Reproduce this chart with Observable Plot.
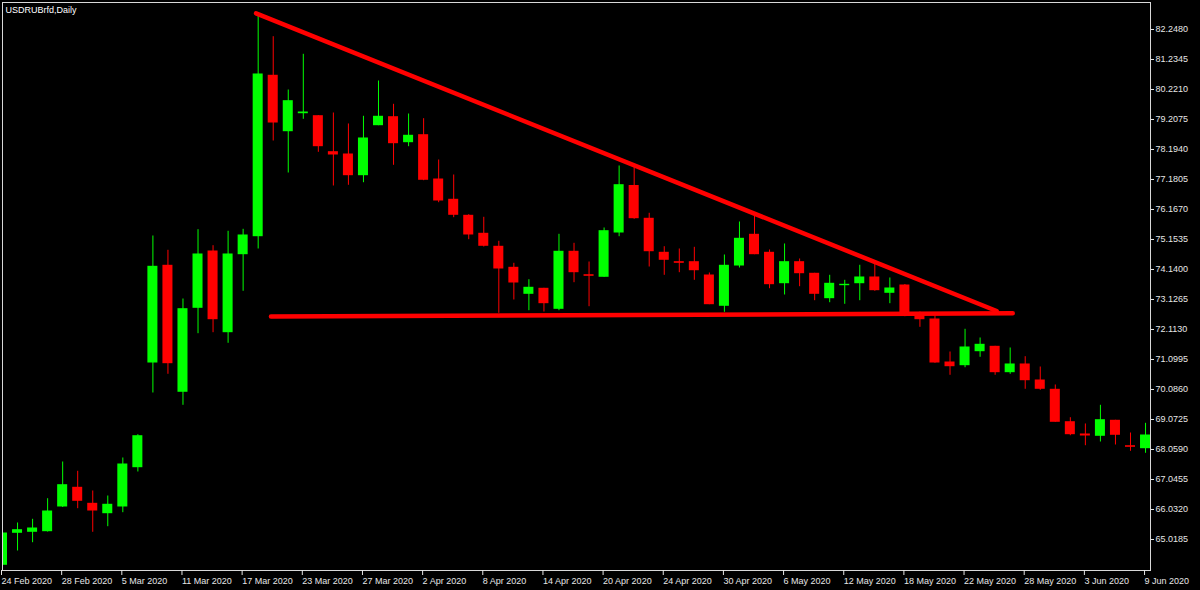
<!DOCTYPE html>
<html><head><meta charset="utf-8">
<script src="https://cdn.jsdelivr.net/npm/d3@7"></script>
<script src="https://cdn.jsdelivr.net/npm/@observablehq/plot@0.6"></script>
<style>
html,body{margin:0;padding:0;background:#000;overflow:hidden;}
#chart{width:1200px;height:590px;}
</style></head><body><div id="chart"></div>
<script>
// USDRUB daily candles, 24 Feb 2020 .. 9 Jun 2020 (77 bars)
const opens = [64.147,65.228,65.262,65.282,66.117,66.782,66.241,65.890,66.117,67.444,
  70.981,74.282,69.992,72.829,74.765,72.005,74.640,75.248,80.701,78.795,
  79.403,79.336,78.120,78.042,77.309,78.998,79.302,78.424,78.694,77.197,
  76.512,75.971,75.363,74.924,74.214,73.302,73.505,72.795,74.755,73.964,
  73.877,75.373,76.978,75.870,74.721,74.404,74.404,73.954,72.897,74.258,
  75.329,74.721,73.660,74.404,74.012,73.154,73.593,73.660,73.887,73.336,
  73.616,72.660,72.468,71.015,70.890,71.363,71.545,70.654,70.948,70.407,
  70.093,68.998,68.583,68.505,69.046,68.187,68.086];
const highs = [65.250,65.576,65.701,66.397,67.637,67.323,66.657,66.488,67.772,68.559,
  75.272,74.789,73.143,75.485,74.944,75.431,75.498,82.795,82.005,80.204,
  81.410,79.336,79.427,79.056,79.316,80.508,79.721,79.393,79.235,77.839,
  77.333,75.991,75.904,75.093,74.350,73.795,73.505,75.329,75.025,74.393,
  75.542,77.637,77.586,76.039,74.910,74.833,74.890,74.022,74.630,75.745,
  75.958,74.799,75.002,74.495,74.012,73.944,73.775,74.282,74.336,73.853,
  73.633,72.704,72.579,71.353,72.120,71.826,71.545,71.488,71.194,70.846,
  70.238,69.133,68.921,69.552,69.046,68.616,68.944];
const lows = [64.123,64.630,64.910,65.270,66.100,66.059,65.262,65.451,65.924,67.299,
  69.968,70.600,69.552,71.971,72.005,71.647,73.404,74.833,78.481,77.400,
  79.214,78.099,76.961,76.985,77.072,78.998,77.660,78.289,77.140,76.397,
  75.890,75.147,74.900,72.660,73.110,72.748,72.704,72.748,73.694,72.883,
  73.877,75.248,75.836,74.224,73.944,74.032,73.775,72.951,72.694,74.191,
  74.640,73.491,73.279,73.559,73.086,73.018,72.964,73.086,73.404,72.985,
  72.545,72.187,70.971,70.566,70.822,71.174,70.566,70.600,70.093,70.059,
  68.978,68.525,68.187,68.312,68.211,67.998,67.931];
const closes = [65.238,65.350,65.407,65.981,66.870,66.309,65.981,66.208,67.569,68.525,
  74.248,70.958,72.816,74.664,72.444,74.664,75.306,80.745,79.089,79.843,
  79.461,78.289,78.008,77.309,78.583,79.316,78.390,78.674,77.154,76.454,
  75.971,75.306,74.924,74.157,73.684,73.539,72.985,74.755,74.032,73.910,
  75.451,77.005,75.856,74.741,74.451,74.349,74.099,72.951,74.282,75.194,
  74.640,73.627,74.404,73.998,73.302,73.674,73.640,73.887,73.424,73.515,
  72.660,72.444,70.981,70.856,71.522,71.613,70.654,70.948,70.383,70.093,
  68.978,68.559,68.515,69.066,68.539,68.133,68.549];

// x-axis labels (every 4th bar)
const tickIndex = [0,4,8,12,16,20,24,28,32,36,40,44,48,52,56,60,64,68,72,76];
const tickLabels = ["24 Feb 2020","28 Feb 2020","5 Mar 2020","11 Mar 2020","17 Mar 2020",
  "23 Mar 2020","27 Mar 2020","2 Apr 2020","8 Apr 2020","14 Apr 2020","20 Apr 2020",
  "24 Apr 2020","30 Apr 2020","6 May 2020","12 May 2020","18 May 2020","22 May 2020",
  "28 May 2020","3 Jun 2020","9 Jun 2020"];
// y-axis price labels
const priceTicks = [82.2480,81.2345,80.2210,79.2075,78.1940,77.1805,76.1670,75.1535,74.1400,
  73.1265,72.1130,71.0995,70.0860,69.0725,68.0590,67.0455,66.0320,65.0185];

// hand-drawn trend lines (bar index, price)
const resistIdx = [16.86, 66.10];
const resistPrice = [82.795, 72.738];
const supportIdx = [17.85, 67.17];
const supportPrice = [72.552, 72.660];

const title = "USDRUBrfd,Daily";

const candles = opens.map((o, i) => ({i, open: o, high: highs[i], low: lows[i], close: closes[i]}));
const resist = resistIdx.map((x, k) => ({i: x, p: resistPrice[k]}));
const support = supportIdx.map((x, k) => ({i: x, p: supportPrice[k]}));
const up = "#00ff00", down = "#ff0000";
const col = d => d.close >= d.open ? up : down;

const chart = Plot.plot({
  width: 1200, height: 590,
  marginLeft: 2, marginTop: 2, marginRight: 50, marginBottom: 20,
  style: {background: "#000", color: "#e6e6e6", fontFamily: "'Liberation Sans', Arial, sans-serif", fontSize: "9px"},
  x: {type: "linear", domain: [0, 76.33]},
  y: {domain: [63.9712, 83.1601]},
  marks: [
    Plot.ruleX(candles, {x: "i", y1: "low", y2: "high", stroke: col, strokeWidth: 1, clip: true}),
    Plot.rect(candles, {x1: d => d.i - 0.333, x2: d => d.i + 0.333,
      y1: d => Math.min(d.open, d.close), y2: d => Math.max(d.open, d.close),
      fill: col, clip: true}),
    Plot.line(resist, {x: "i", y: "p", stroke: "#ff0000", strokeWidth: 4.5, strokeLinecap: "round"}),
    Plot.line(support, {x: "i", y: "p", stroke: "#ff0000", strokeWidth: 4.5, strokeLinecap: "round"}),
    Plot.frame({stroke: "#d8d8d8"}),
    Plot.axisY({anchor: "right", ticks: priceTicks, tickFormat: d => d.toFixed(4), tickSize: 3, tickPadding: 2, label: null}),
    Plot.axisX({ticks: tickIndex, tickFormat: v => tickLabels[tickIndex.indexOf(v)], tickSize: 5, tickPadding: 2, textAnchor: "start", dx: -1, label: null}),
    Plot.text([title], {text: d => d, frameAnchor: "top-left", dx: 3, dy: 4, fill: "#ffffff", textAnchor: "start"})
  ]
});
document.getElementById("chart").appendChild(chart);
</script></body></html>
